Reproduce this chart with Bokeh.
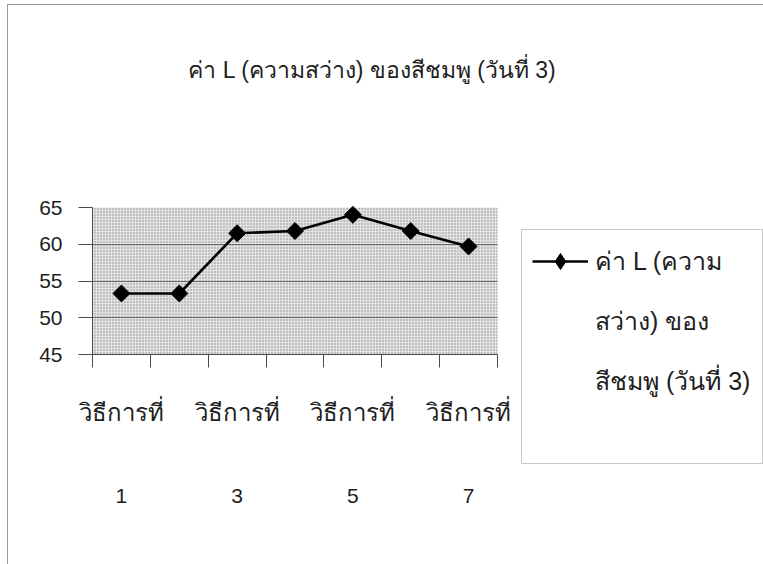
import math
from bokeh.plotting import figure
from bokeh.core.properties import value
from bokeh.models import (ColumnDataSource, LabelSet, Label, Legend, LegendItem,
                          LinearAxis, FixedTicker, BoxAnnotation, Range1d,
                          CustomLabelingPolicy)
from bokeh.embed import file_html
from bokeh.resources import INLINE

# Data
methods = ["วิธีการที่ 1", "วิธีการที่ 2", "วิธีการที่ 3", "วิธีการที่ 4",
           "วิธีการที่ 5", "วิธีการที่ 6", "วิธีการที่ 7"]
l_values = [53.3, 53.3, 61.5, 61.8, 64.0, 61.8, 59.7]
y_ticks = [45, 50, 55, 60, 65]
y_tick_labels = ["45", "50", "55", "60", "65"]
label_words = ["วิธีการที่", "วิธีการที่", "วิธีการที่", "วิธีการที่"]
label_numbers = ["1", "3", "5", "7"]
label_index = [0, 2, 4, 6]
title_text = "ค่า L (ความสว่าง) ของสีชมพู (วันที่ 3)"
series_lines = ["ค่า L (ความ", "สว่าง) ของ", "สีชมพู (วันที่ 3)"]

FONT = "Liberation Sans"
TXT = "#1e1e1e"
AX = "#4a4a4a"

# Canvas layout: the frame fills almost the whole canvas; both axes are
# pinned at fixed data positions inside it.
W, H = 763, 564
FRAME_LEFT, BOTTOM = 20, 20
AXIS_X = 92                # screen x of the value axis
PX_X = 405 / 7.0           # pixels per category
PX_Y = 147 / 20.0          # pixels per unit of L
Y_TOP_PX = 207             # screen y of L = 65
x_start = -(AXIS_X - FRAME_LEFT) / PX_X
x_end = (W - AXIS_X) / PX_X
y_hi = 65 + Y_TOP_PX / PX_Y
y_lo = 65 - (H - BOTTOM - Y_TOP_PX) / PX_Y


def sx(px):
    return (px - AXIS_X) / PX_X


def sy(py):
    return 65 - (py - Y_TOP_PX) / PX_Y


# axes draw only lines and ticks; their numbers and names are labels below
no_labels = CustomLabelingPolicy(code="""
    for (const i of Array.from(indices))
        indices.unset(i)
    return indices
""")

p = figure(width=W, height=H, output_backend="svg", toolbar_location=None,
           title=None, x_range=Range1d(x_start, x_end), y_range=Range1d(y_lo, y_hi),
           x_axis_location=None, min_border_left=FRAME_LEFT, min_border_right=0,
           min_border_top=0, min_border_bottom=BOTTOM)
p.outline_line_color = None
p.background_fill_alpha = 0
p.border_fill_alpha = 0
p.styles = {
    "background-color": "white",
    "background-image": "linear-gradient(#9a9a9a,#9a9a9a), linear-gradient(#9a9a9a,#9a9a9a)",
    "background-size": "1px 100%, 100% 1px",
    "background-position": "7px 4px, 7px 4px",
    "background-repeat": "no-repeat",
}

n = len(methods)

# dotted plot area
p.add_layout(BoxAnnotation(left=0, right=n, bottom=45, top=65,
                           fill_color="#e2e2e2", fill_alpha=1.0, line_color=None,
                           hatch_pattern="dot", hatch_color="#7a7a7a",
                           hatch_scale=3, hatch_alpha=0.85, level="image"))

# value axis
p.yaxis.fixed_location = 0
p.yaxis.ticker = FixedTicker(ticks=y_ticks)
p.yaxis.bounds = (45, 65)
p.yaxis.major_label_text_font_size = "0px"
p.yaxis.major_label_policy = no_labels
p.yaxis.major_label_standoff = 0
p.yaxis.major_tick_out = 14
p.yaxis.major_tick_in = 0
p.yaxis.minor_tick_out = 0
p.yaxis.axis_line_color = AX
p.yaxis.major_tick_line_color = AX

ylab_src = ColumnDataSource(dict(x=[sx(62)] * len(y_ticks), y=y_ticks,
                                 text=y_tick_labels))
p.add_layout(LabelSet(x="x", y="y", text="text", source=ylab_src,
                      text_align="right", text_baseline="middle",
                      text_font=value(FONT), text_font_size=value("21px"),
                      text_color=TXT))

# category axis: tick marks between methods
x_axis = LinearAxis(ticker=FixedTicker(ticks=list(range(n + 1))), fixed_location=45,
                    bounds=(0, n), major_label_text_font_size="0px",
                    major_label_policy=no_labels,
                    major_label_standoff=0, major_tick_out=13, major_tick_in=0,
                    minor_tick_out=0, axis_line_color=AX, major_tick_line_color=AX)
p.add_layout(x_axis, "below")

p.xgrid.visible = False
p.ygrid.ticker = FixedTicker(ticks=[50, 55, 60])
p.ygrid.cross_bounds = (0, n)
p.ygrid.grid_line_color = "#6a6a6a"
p.ygrid.grid_line_width = 1.2

xs = [i + 0.5 for i in range(n)]
src = ColumnDataSource(dict(x=xs, y=l_values, name=methods))
ln = p.line("x", "y", source=src, line_color="black", line_width=2.6)
# diamond markers: the inner one also serves as the legend sample
key_marker = p.scatter("x", "y", source=src, marker="diamond", size=14,
                       fill_color="black", line_color="black")
pts = p.scatter("x", "y", source=src, marker="square", angle=math.pi / 4, size=12,
                fill_color="black", line_color="black")

# category labels: "วิธีการที่" with the method number on a second row
lab_src = ColumnDataSource(dict(x=[xs[i] for i in label_index],
                                y1=[sy(420)] * len(label_index),
                                y2=[sy(502)] * len(label_index),
                                word=label_words, num=label_numbers))
p.add_layout(LabelSet(x="x", y="y1", text="word", source=lab_src,
                      text_align="center", text_baseline="alphabetic",
                      text_font=value(FONT), text_font_size=value("24px"),
                      text_color=TXT))
p.add_layout(LabelSet(x="x", y="y2", text="num", source=lab_src,
                      text_align="center", text_baseline="alphabetic",
                      text_font=value(FONT), text_font_size=value("21px"),
                      text_color=TXT))

# chart title
p.add_layout(Label(x=sx(372), y=sy(69), text=title_text, text_align="center",
                   text_baseline="alphabetic", text_font=FONT,
                   text_font_size="23px", text_color=TXT))

# legend frame and entries
p.add_layout(BoxAnnotation(left=sx(521), right=sx(762), top=sy(229), bottom=sy(463),
                           fill_color="white", fill_alpha=1.0,
                           line_color=AX, line_width=1, level="annotation"))
items = [LegendItem(label=series_lines[0], renderers=[ln, key_marker])]
items += [LegendItem(label=t, renderers=[]) for t in series_lines[1:]]
legend = Legend(items=items, location=(532 - FRAME_LEFT, (H - BOTTOM) - 401),
                padding=0, margin=0, spacing=20,
                glyph_width=56, glyph_height=40, label_height=40, label_standoff=7,
                label_text_font=FONT, label_text_font_size="25px",
                label_text_color=TXT, label_text_baseline="middle",
                border_line_color=None, background_fill_alpha=0)
p.add_layout(legend)

open("out.html", "w").write(file_html(p, INLINE))
